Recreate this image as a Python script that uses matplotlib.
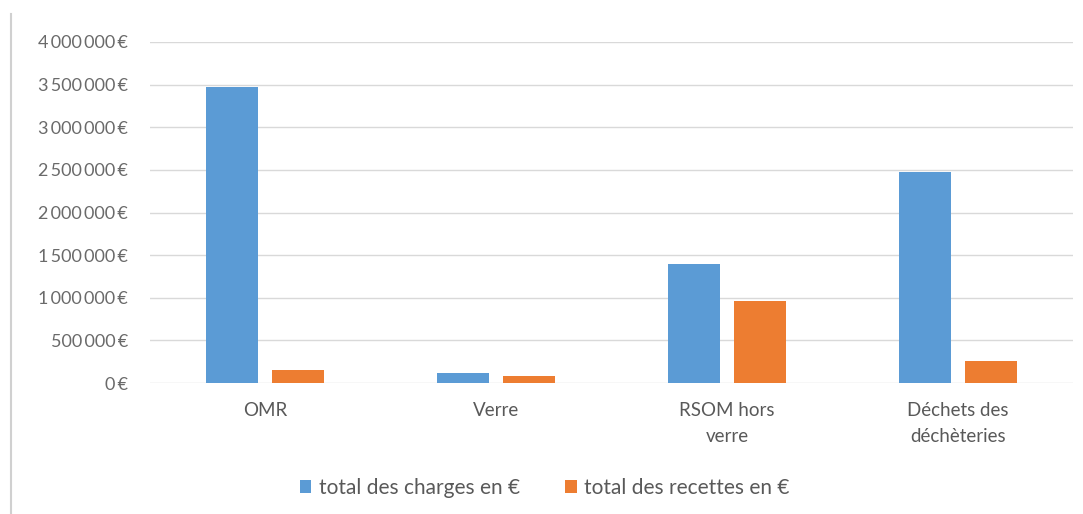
import matplotlib
matplotlib.use("Agg")
import matplotlib.pyplot as plt
from matplotlib.ticker import FuncFormatter
from matplotlib.lines import Line2D
import numpy as np

categories = ["OMR", "Verre", "RSOM hors\nverre", "Déchets des\ndéchèteries"]
charges = [3470000, 115000, 1400000, 2480000]
recettes = [150000, 80000, 960000, 255000]
series_names = ["total des charges en €", "total des recettes en €"]
yticks = [0, 500000, 1000000, 1500000, 2000000, 2500000, 3000000, 3500000, 4000000]

plt.rcParams['font.family'] = ['Lato', 'DejaVu Sans']
TXT = "#595959"
BLUE = "#5B9BD5"
ORANGE = "#ED7D31"

fig = plt.figure(figsize=(10.83, 5.14), dpi=100)
ax = fig.add_axes([150/1083, 1-383/514, 923/1083, 341/514])

x = np.arange(len(categories))
w = 0.225
off = 0.143
ax.bar(x - off, charges, width=w, color=BLUE, label=series_names[0], zorder=3)
ax.bar(x + off, recettes, width=w, color=ORANGE, label=series_names[1], zorder=3)

ax.set_xlim(-0.5, len(categories) - 0.5)
ax.set_ylim(0, 4000000)
ax.set_yticks(yticks)

def fmt(v, pos):
    s = f"{int(v):,}".replace(",", "\u2009")
    return s + "\u2009€"
ax.yaxis.set_major_formatter(FuncFormatter(fmt))
ax.grid(axis='y', color="#D9D9D9", linewidth=1, zorder=0)
for s in ax.spines.values():
    s.set_visible(False)
ax.tick_params(axis='y', length=0, pad=16, labelsize=13, labelcolor="#6A6A6A")
ax.tick_params(axis='x', length=0, pad=14, labelsize=13.5, labelcolor=TXT)
ax.set_xticks(x)
ax.set_xticklabels(categories, linespacing=1.6)

leg = fig.legend(loc='center', bbox_to_anchor=(0.503, 1-488/514), ncol=2, frameon=False,
                 fontsize=15, handlelength=0.55, handleheight=0.55, handletextpad=0.35,
                 columnspacing=2.2, labelcolor=TXT)

fig.add_artist(Line2D([11/1083, 11/1083], [0, 1-14/514], transform=fig.transFigure,
                      color="#D0D0D0", linewidth=1.5))

fig.savefig("out.png", dpi=100)
